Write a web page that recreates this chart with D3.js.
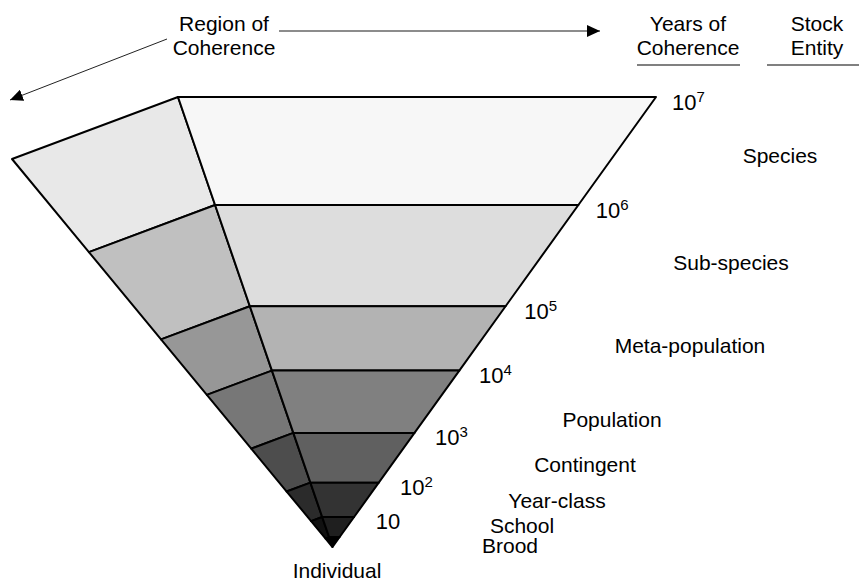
<!DOCTYPE html>
<html>
<head>
<meta charset="utf-8">
<script src="https://cdn.jsdelivr.net/npm/d3@7"></script>
<style>
body { margin: 0; background: #fff; }
text { font-family: "Liberation Sans", Arial, sans-serif; fill: #000; }
</style>
</head>
<body>
<svg id="chart" width="859" height="582"></svg>
<script>
// boundaries of the cone, top (10^7 years) down to the apex
var exponents = ['7','6','5','4','3','2','','']
var levelDepth = [1, 0.76, 0.535, 0.392, 0.2535, 0.143, 0.0667, 0.0216, 0]
var entities = ['Species','Sub-species','Meta-population','Population','Contingent','Year-class','School','Brood']
var frontFill = ['#f7f7f7','#dddddd','#b3b3b3','#808080','#606060','#333333','#1f1f1f','#000000']
var sideFill  = ['#e8e8e8','#c0c0c0','#979797','#777777','#4d4d4d','#2b2b2b','#111111','#000000']

// where the entity names sit (centre x, baseline y)
var entityPos = [[780,163],[731,270],[690,353],[612,427],[585,472],[557,508],[522,533],[510,553]]

var svg = d3.select('#chart')
var apex = [332.5, 547]
// one scale per corner: depth 0 = apex, depth 1 = top rim
var innerS = d3.scaleLinear().domain([0,1]).range([apex, [178, 97]])
var rightS = d3.scaleLinear().domain([0,1]).range([apex, [656, 97]])
var outerS = d3.scaleLinear().domain([0,1]).range([apex, [12, 159]])
// the array interpolator reuses its output, so copy each point
function inner(d){ return innerS(d).slice() }
function right(d){ return rightS(d).slice() }
function outer(d){ return outerS(d).slice() }

var defs = svg.append('defs')
defs.append('marker').attr('id','head')
	.attr('markerUnits','userSpaceOnUse')
	.attr('markerWidth',14).attr('markerHeight',12)
	.attr('refX',13).attr('refY',6).attr('orient','auto')
	.append('path').attr('d','M0,0 L13,6 L0,12 Z').attr('fill','#000')

var layers = d3.range(levelDepth.length-1).map(function(i){
	return {top: levelDepth[i], bot: levelDepth[i+1], i: i}
})

var cone = svg.append('g')
cone.selectAll('path.side').data(layers).enter().append('path')
	.attr('class','side')
	.attr('d', function(d){
		return 'M'+[outer(d.top), inner(d.top), inner(d.bot), outer(d.bot)].join('L')+'Z'
	})
	.attr('fill', function(d){ return sideFill[d.i] })
	.attr('stroke','#000').attr('stroke-width',2).attr('stroke-linejoin','round')
cone.selectAll('path.front').data(layers).enter().append('path')
	.attr('class','front')
	.attr('d', function(d){
		return 'M'+[inner(d.top), right(d.top), right(d.bot), inner(d.bot)].join('L')+'Z'
	})
	.attr('fill', function(d){ return frontFill[d.i] })
	.attr('stroke','#000').attr('stroke-width',2).attr('stroke-linejoin','round')

// years of coherence labels at the right rim
var yl = svg.append('g').selectAll('text').data(exponents.slice(0,7)).enter().append('text')
	.attr('x', function(d,i){ return right(levelDepth[i])[0] + 22 - 6*levelDepth[i] })
	.attr('y', function(d,i){ return right(levelDepth[i])[1] + 12.5 })
	.attr('font-size', 22)
yl.append('tspan').text('10')
yl.append('tspan').text(function(d){ return d })
	.attr('font-size', 15).attr('dy', -8)

// stock entity names
svg.append('g').selectAll('text').data(entities).enter().append('text')
	.attr('x', function(d,i){ return entityPos[i][0] })
	.attr('y', function(d,i){ return entityPos[i][1] })
	.attr('text-anchor','middle').attr('font-size',21)
	.text(function(d){ return d })
svg.append('text').attr('x',337).attr('y',578)
	.attr('text-anchor','middle').attr('font-size',21).text('Individual')

// headers
function header(lines, x){
	var t = svg.append('text').attr('text-anchor','middle').attr('font-size',21)
	lines.forEach(function(s,k){
		t.append('tspan').attr('x',x).attr('y',31+24*k).text(s)
	})
}
header(['Region of','Coherence'], 224)
header(['Years of','Coherence'], 688)
header(['Stock','Entity'], 817)

svg.append('line').attr('x1',637).attr('x2',740).attr('y1',65).attr('y2',65)
	.attr('stroke','#808080').attr('stroke-width',2)
svg.append('line').attr('x1',767).attr('x2',859).attr('y1',65).attr('y2',65)
	.attr('stroke','#808080').attr('stroke-width',2)

// arrows
svg.append('line').attr('x1',279).attr('y1',31).attr('x2',600).attr('y2',31)
	.attr('stroke','#666').attr('stroke-width',1.5).attr('marker-end','url(#head)')
svg.append('line').attr('x1',167).attr('y1',39).attr('x2',10).attr('y2',100)
	.attr('stroke','#222').attr('stroke-width',1).attr('marker-end','url(#head)')
</script>
</body>
</html>
